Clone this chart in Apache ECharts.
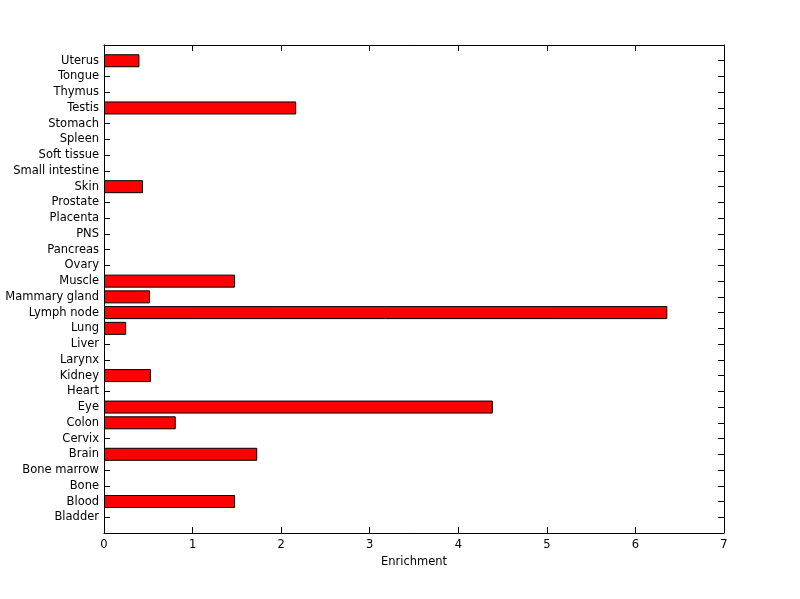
<!DOCTYPE html>
<html>
<head>
<meta charset="utf-8">
<script src="https://cdn.jsdelivr.net/npm/echarts@6/dist/echarts.min.js"></script>
<style>html,body{margin:0;padding:0;background:#fff;}#c{width:800px;height:599px;}</style>
</head>
<body>
<div id="c"></div>
<script>
var tissues = ['Bladder','Blood','Bone','Bone marrow','Brain','Cervix','Colon','Eye','Heart','Kidney','Larynx','Liver','Lung','Lymph node','Mammary gland','Muscle','Ovary','Pancreas','PNS','Placenta','Prostate','Skin','Small intestine','Soft tissue','Spleen','Stomach','Testis','Thymus','Tongue','Uterus'];
var enrichment = [0,1.48,0,0,1.73,0,0.81,4.39,0,0.53,0,0,0.25,6.36,0.52,1.48,0,0,0,0,0,0.44,0,0,0,0,2.17,0,0,0.40];
var xTicks = [0,1,2,3,4,5,6,7];

// padded category list so categories sit at 1..30 of a 0..31 span (MATLAB-style)
var cats = [''].concat(tissues).concat(['']);
var vals = ['-'].concat(enrichment.map(function(v){return v === 0 ? '-' : v;})).concat(['-']);

var font = 'DejaVu Sans';
var line = {show:true,onZero:false,lineStyle:{color:'#000',width:1}};
var tick = {show:true,inside:true,length:6,lineStyle:{color:'#000'}};
var chart = echarts.init(document.getElementById('c'), null, {renderer:'canvas'});
chart.setOption({
  animation:false,
  backgroundColor:'#fff',
  grid:{left:104,right:76,top:45,bottom:66,show:false},
  xAxis:[{
    type:'value', position:'bottom', min:xTicks[0], max:xTicks[xTicks.length-1], interval:1,
    name:'Enrichment', nameLocation:'middle', nameGap:22,
    nameTextStyle:{fontFamily:font,fontSize:11.5,color:'#000'},
    axisLine:line, axisTick:tick,
    axisLabel:{fontFamily:font,fontSize:11.5,color:'#000',margin:6},
    splitLine:{show:false}
  },{
    type:'value', position:'top', min:xTicks[0], max:xTicks[xTicks.length-1], interval:1,
    axisLine:line, axisTick:tick,
    axisLabel:{show:false}, splitLine:{show:false}
  }],
  yAxis:[{
    type:'category', position:'left', data:cats, boundaryGap:false,
    axisLine:line, axisTick:tick,
    axisLabel:{fontFamily:font,fontSize:11.5,color:'#000',margin:5,interval:0},
    splitLine:{show:false}
  },{
    type:'category', position:'right', data:cats, boundaryGap:false,
    axisLine:line, axisTick:tick,
    axisLabel:{show:false}, splitLine:{show:false}
  }],
  series:[{
    type:'bar', xAxisIndex:0, yAxisIndex:0, data:vals, barWidth:13,
    itemStyle:{color:'#ff0000',borderColor:'#000',borderWidth:1}
  }]
});
</script>
</body>
</html>
